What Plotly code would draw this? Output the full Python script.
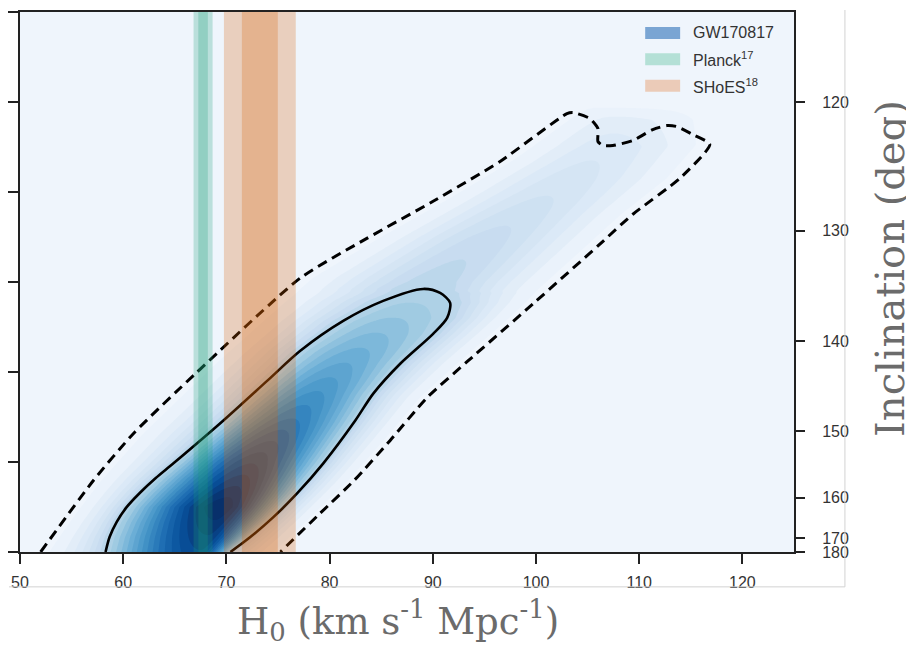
import numpy as np
import plotly.graph_objects as go

# ---------------- data ----------------
x_ticks = [50, 60, 70, 80, 90, 100, 110, 120]
incl_ticks = [120, 130, 140, 150, 160, 170, 180]          # right axis, degrees
cos_ticks_left = [-1.0, -0.9, -0.8, -0.7, -0.6, -0.5, -0.4]

planck_mean, planck_sigma = 67.74, 0.46
shoes_mean, shoes_sigma = 73.24, 1.74

# outer (dashed) credible contour: H0 and cos(inclination)
dashed_h0 = [52.00, 57.13, 61.00, 67.00, 77.16, 83.65, 90.03, 96.52, 103.00,
             103.58, 105.23, 106.00, 106.00, 106.48, 107.45, 109.39, 111.32, 112.68,
             113.64, 115.19, 116.84, 113.93, 109.39, 106.19, 99.71, 93.32, 89.45,
             85.87, 82.39, 79.10, 75.23]
dashed_cos = [-1.000, -0.9203, -0.8683, -0.8018, -0.6956, -0.6513, -0.6103,
              -0.5660, -0.5129, -0.5118, -0.5184, -0.5295, -0.5439, -0.5483, -0.5483,
              -0.5428, -0.5306, -0.5262, -0.5273, -0.5362, -0.5472, -0.5849, -0.6247,
              -0.6579, -0.7243, -0.7886, -0.8284, -0.8760, -0.9203, -0.9568, -1.000]

# inner (solid) credible contour
solid_h0 = [58.29, 58.68, 59.36, 60.33, 61.58, 63.13, 64.87, 69.71, 73.97, 77.16,
            81.32, 85.19, 89.07, 90.71, 91.68, 91.39, 90.03, 86.84, 84.23, 82.49,
            79.39, 76.87, 74.55, 72.32, 70.39]
solid_cos = [-1.000, -0.9834, -0.9668, -0.9502, -0.9347, -0.9181, -0.9015, -0.8539,
             -0.8096, -0.7764, -0.7432, -0.7210, -0.7077, -0.7122, -0.7232, -0.7398,
             -0.7576, -0.7908, -0.8240, -0.8539, -0.9015, -0.9347, -0.9613, -0.9834,
             -1.000]

# posterior ridge, row by row (cos i): darkest H0 and relative density there
ridge_cos = [-1.00, -0.95, -0.90, -0.85, -0.80, -0.75, -0.70, -0.65, -0.60, -0.55, -0.52, -0.505]
ridge_peak = [67.5, 69.5, 72.5, 76.5, 80.5, 85.0, 90.0, 95.5, 101.5, 107.0, 108.0, 106.0]
ridge_level = [0.88, 1.00, 0.84, 0.68, 0.55, 0.43, 0.31, 0.26, 0.20, 0.15, 0.10, 0.04]

# ---------------- density surface consistent with the contour lines ----------------
z_edge = 0.03     # density on the dashed contour
z_solid = 0.33    # density on the solid contour

n_top = dashed_cos.index(max(dashed_cos))
dl_c, dl_h = dashed_cos[:n_top + 1], dashed_h0[:n_top + 1]
n_corner = dashed_h0.index(max(dashed_h0))
dr_c, dr_h = dashed_cos[n_corner:][::-1], dashed_h0[n_corner:][::-1]
s_top = solid_cos.index(max(solid_cos))
sl_c, sl_h = solid_cos[:s_top + 1], solid_h0[:s_top + 1]
sr_c, sr_h = solid_cos[s_top:][::-1], solid_h0[s_top:][::-1]

h_grid = np.linspace(50, 125, 301)
c_grid = np.linspace(-1.0, -0.4, 241)
Z = np.zeros((len(c_grid), len(h_grid)))
for i, c in enumerate(c_grid):
    level = float(np.interp(c, ridge_cos, ridge_level, right=0.0))
    if level <= 1e-4:
        continue
    lo = float(np.interp(c, dl_c, dl_h))
    hi = float(np.interp(c, dr_c, dr_h))
    pk = float(np.interp(c, ridge_cos, ridge_peak))
    decay = max(np.log(level / z_edge), 0.5)
    if c <= max(solid_cos) and level > z_solid * 1.01:
        sL = float(np.interp(c, sl_c, sl_h))
        sR = float(np.interp(c, sr_c, sr_h))
        ts = np.sqrt(np.log(level / z_solid) / decay)
        pk = min(max(pk, sL + 0.3), sR - 0.3)
        kh = [lo, min(sL, pk - 0.2), pk, max(sR, pk + 0.2), hi]
        kt = [-1.0, -ts, 0.0, ts, 1.0]
    else:
        pk = min(max(pk, lo + 1.0), hi - 1.0)
        kh = [lo, pk, hi]
        kt = [-1.0, 0.0, 1.0]
    t = np.interp(h_grid, kh, kt)
    sl_left = (kt[1] - kt[0]) / (kh[1] - kh[0])
    sl_right = (kt[-1] - kt[-2]) / (kh[-1] - kh[-2])
    t = np.where(h_grid < kh[0], -1.0 - (kh[0] - h_grid) * sl_left, t)
    t = np.where(h_grid > kh[-1], 1.0 + (h_grid - kh[-1]) * sl_right, t)
    Z[i] = level * np.exp(-decay * t ** 2)

BG = "#eff5fc"
blues = [[0.0, BG], [0.05, "#e4eef9"], [0.125, "#d9e8f6"], [0.25, "#c6dbef"],
         [0.375, "#9ecae1"], [0.5, "#6baed6"], [0.625, "#4292c6"],
         [0.75, "#2171b5"], [0.875, "#08519c"], [1.0, "#08306b"]]

fig = go.Figure()
fig.add_trace(go.Contour(
    x=h_grid, y=c_grid, z=Z, zmin=0, zmax=1, colorscale=blues, showscale=False,
    contours=dict(start=0.045, end=1.0, size=0.04, coloring="fill", showlines=False),
    line=dict(width=0, smoothing=1), hoverinfo="skip"))

fig.add_trace(go.Scatter(x=solid_h0, y=solid_cos, mode="lines",
                         line=dict(color="black", width=2.6, shape="spline", smoothing=0.8),
                         hoverinfo="skip"))
fig.add_trace(go.Scatter(x=dashed_h0, y=dashed_cos, mode="lines", yaxis="y2",
                         line=dict(color="black", width=3, dash="10px,6px",
                                   shape="spline", smoothing=0.6),
                         hoverinfo="skip"))

# measurement bands (1 and 2 sigma)
shapes = []
for mean, sig, col in [(planck_mean, planck_sigma, "#1b9e77"),
                       (shoes_mean, shoes_sigma, "#d95f02")]:
    for k in (2, 1):
        shapes.append(dict(type="rect", xref="x", yref="paper", x0=mean - k * sig,
                           x1=mean + k * sig, y0=0, y1=1, fillcolor=col, opacity=0.25,
                           line=dict(width=0), layer="above"))

# page offset of the figure (body margin) -> plot area at 19..794 x 10..552 in the picture
OFF = 8
PL, PR, PT, PB = 19 - OFF, 794 - OFF, 10 - OFF, 552 - OFF
W, Hh = 914 - OFF, 647 - OFF
PW, PH = PR - PL, PB - PT


def px(xp):
    return (xp - OFF - PL) / PW


def py(yp):
    return (PB - (yp - OFF)) / PH


# frame lines of the original image
shapes.append(dict(type="line", xref="paper", yref="paper", x0=px(845), x1=px(845),
                   y0=py(587), y1=py(8), line=dict(color="#d2d2d2", width=1)))
shapes.append(dict(type="line", xref="paper", yref="paper", x0=px(8), x1=px(845),
                   y0=py(587), y1=py(587), line=dict(color="#d2d2d2", width=1)))

# legend
legend_items = [("GW170817", "#7aa5d3"), ("Planck<sup>17</sup>", "#b4e0d6"),
                ("SHoES<sup>18</sup>", "#ebcbb8")]
annotations = []
for i, (name, col) in enumerate(legend_items):
    yc = 31 + i * 26.5
    shapes.append(dict(type="rect", xref="paper", yref="paper",
                       x0=px(645), x1=px(680), y0=py(yc + 6), y1=py(yc - 6),
                       fillcolor=col, line=dict(width=0), layer="above"))
    annotations.append(dict(xref="paper", yref="paper", x=px(691), y=py(yc),
                            xanchor="left", yanchor="middle", text=name, showarrow=False,
                            font=dict(family="Liberation Sans, Arial, sans-serif",
                                      size=16, color="#333333")))

annotations.append(dict(xref="paper", yref="paper", x=px(397), y=py(621),
                        xanchor="center", yanchor="middle",
                        text="H<sub>0</sub> (km s<sup>-1</sup> Mpc<sup>-1</sup>)",
                        showarrow=False,
                        font=dict(family="DejaVu Serif, serif", size=37, color="#6b6b6b")))
annotations.append(dict(xref="paper", yref="paper", x=px(890), y=py(267),
                        xanchor="center", yanchor="middle",
                        text="Inclination (deg)", textangle=-90, showarrow=False,
                        font=dict(family="DejaVu Serif, serif", size=40, color="#6b6b6b")))

tickfont = dict(family="Liberation Sans, Arial, sans-serif", size=16, color="#333333")
axis_common = dict(showgrid=False, zeroline=False, ticks="outside", ticklen=10,
                   tickwidth=2, tickcolor="#222222")

fig.update_layout(
    width=W, height=Hh,
    margin=dict(l=PL, r=W - PR, t=PT, b=Hh - PB),
    paper_bgcolor="white", plot_bgcolor=BG,
    showlegend=False,
    xaxis=dict(range=[50, 125], tickvals=x_ticks, showline=True, linecolor="#222222",
               linewidth=2, mirror=True, tickfont=tickfont, ticklabelstandoff=5,
               **axis_common),
    yaxis=dict(range=[-1.0, -0.4], tickvals=cos_ticks_left, showticklabels=False,
               showline=True, linecolor="#222222", linewidth=2, mirror=True,
               **axis_common),
    yaxis2=dict(range=[-1.0, -0.4], overlaying="y", side="right",
                tickvals=list(np.cos(np.radians(incl_ticks))),
                ticktext=[str(v) for v in incl_ticks], showline=False,
                tickfont=tickfont, ticklabelstandoff=14, **axis_common),
    shapes=shapes, annotations=annotations,
)

fig.write_html("out.html")
